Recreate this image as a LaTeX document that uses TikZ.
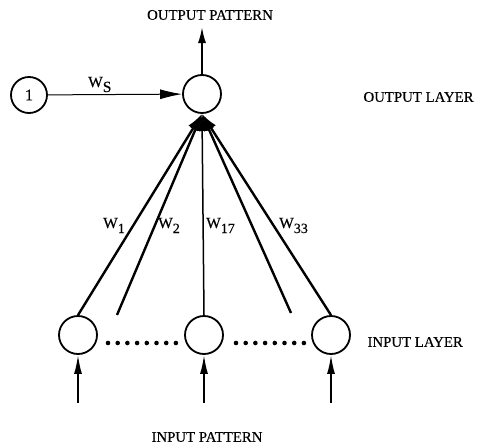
\documentclass[tikz,border=0pt]{standalone}
\usepackage{fontspec}
\setmainfont{Liberation Serif}[FakeBold=0.4]
\usetikzlibrary{arrows.meta}
\begin{document}
\begin{tikzpicture}[x=1pt,y=-1pt,
  neuron/.style={circle,draw,line width=1.8pt,minimum size=38pt,inner sep=0pt},
  fan/.style={line width=2.4pt,-{Latex[length=17pt,width=11pt]}},
  inarrow/.style={line width=1.8pt,-{Latex[length=19pt,width=8pt]}},
  caption/.style={font=\fontsize{14.8}{16}\selectfont},
  wlabel/.style={font=\fontsize{15.5}{17}\selectfont,inner sep=0pt,anchor=base west},
  dotmark/.style={circle,fill,inner sep=0pt,minimum size=4.6pt}]
\useasboundingbox (0,0) rectangle (484,447);
% nodes
\node[neuron] (out) at (202,94) {};
\node[neuron,minimum size=36pt] (one) at (29,95) {\fontsize{16}{18}\selectfont 1};
\node[neuron] (in1) at (78,335) {};
\node[neuron] (in2) at (204,335) {};
\node[neuron] (in3) at (331,335) {};
% labels
\node[caption] (op) at (210,15) {OUTPUT PATTERN};
\node[caption,anchor=west] (ol) at (360,97) {OUTPUT LAYER};
\node[caption,anchor=west] (il) at (364,342) {INPUT LAYER};
\node[caption] (ip) at (207,437) {INPUT PATTERN};
% output arrow
\coordinate (otip) at (202,27);
\draw[line width=1.8pt,-{Latex[length=16pt,width=8pt]}] (out.north) -- (otip);
% bias arrow
\draw[line width=1pt,-{Latex[length=22pt,width=10pt]}] (one) -- (out);
\node[wlabel] (ws) at (88,87) {W\raisebox{-5pt}{S}};
% fan lines
\coordinate (d2) at (117,315);
\coordinate (d4) at (291,313);
\draw[fan] (in1.north) -- (out.south);
\draw[fan] (d2) -- (out.south);
\draw[fan,line width=1.5pt] (in2.north) -- (out.south);
\draw[fan] (d4) -- (out.south);
\draw[fan] (in3.north) -- (out.south);
\node[wlabel] (w1) at (103,228) {W\raisebox{-5pt}{\fontsize{14}{15}\selectfont 1}};
\node[wlabel] (w2) at (158,228) {W\raisebox{-5pt}{\fontsize{14}{15}\selectfont 2}};
\node[wlabel] (w17) at (206,228) {W\raisebox{-5pt}{\fontsize{14}{15}\selectfont 17}};
\node[wlabel] (w33) at (279,228) {W\raisebox{-5pt}{\fontsize{14}{15}\selectfont 33}};
% dots
\foreach \i in {0,...,7} {
  \node[dotmark] (da\i) at ({108+\i*9.7},343) {};
  \node[dotmark] (db\i) at ({236+\i*9.7},343) {};
}
% input arrows
\coordinate (s1) at (78,403);
\coordinate (s2) at (204,403);
\coordinate (s3) at (331,403);
\draw[inarrow] (s1) -- (in1.south);
\draw[inarrow] (s2) -- (in2.south);
\draw[inarrow] (s3) -- (in3.south);
\end{tikzpicture}
\end{document}
